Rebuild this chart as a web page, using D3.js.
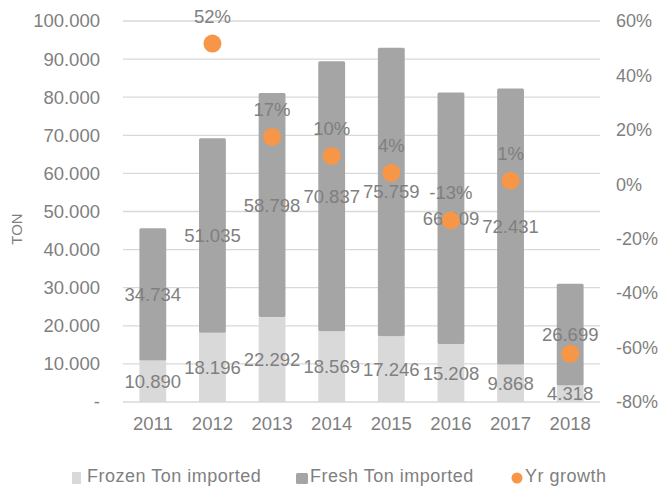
<!DOCTYPE html>
<html>
<head>
<meta charset="utf-8">
<script src="https://cdn.jsdelivr.net/npm/d3@7"></script>
<style>
body { margin: 0; background: #fff; }
text { font-family: "Liberation Sans", Arial, sans-serif; fill: #7f7f7f; }
</style>
</head>
<body>
<script>
var years = ["2011","2012","2013","2014","2015","2016","2017","2018"];
var frozen = [10890, 18196, 22292, 18569, 17246, 15208, 9868, 4318];
var fresh = [34734, 51035, 58798, 70837, 75759, 66009, 72431, 26699];
var growth = [null, 0.517, 0.174, 0.104, 0.042, -0.133, 0.013, -0.623];
var showGrowthLabel = [false, true, true, true, true, true, true, false];
var leftTicks = [0,10000,20000,30000,40000,50000,60000,70000,80000,90000,100000];
var rightTicks = [-0.8,-0.6,-0.4,-0.2,0,0.2,0.4,0.6];

var width = 661, height = 490;
var margin = {top: 21, right: 61, bottom: 88, left: 123};
var plotW = width - margin.left - margin.right;
var plotH = height - margin.top - margin.bottom;
var fs = "18.5px";

var svg = d3.select("body").append("svg")
	.attr("width", width)
	.attr("height", height)
	.append("g")
	.attr("transform", "translate(" + margin.left + "," + margin.top + ")");

var x = d3.scaleBand().domain(years).range([0, plotW]).paddingInner(0.55).paddingOuter(0.275);
var y = d3.scaleLinear().domain([0, 100000]).range([plotH, 0]);
var y2 = d3.scaleLinear().domain([-0.8, 0.6]).range([plotH, 0]);

var numFmt = function(v){
	if (v === 0) return "-";
	return d3.format(",")(v).replace(/,/g, ".");
};
// plain hyphen minus, like the spreadsheet
var pctFmt = function(v){
	return d3.format(".0%")(v).replace("\u2212", "-");
};

// gridlines
svg.append("g").selectAll("line").data(leftTicks).enter().append("line")
	.attr("x1", 0).attr("x2", plotW)
	.attr("y1", function(d){ return y(d); }).attr("y2", function(d){ return y(d); })
	.attr("stroke", "#d9d9d9").attr("stroke-width", 1.3);

// left axis
var yAxis = d3.axisLeft(y).tickValues(leftTicks).tickFormat(numFmt).tickSize(0).tickPadding(23);
svg.append("g").attr("class", "AxisY").call(yAxis)
	.call(function(g){ g.select(".domain").remove(); })
	.selectAll("text").style("font-size", fs).attr("fill", "#7f7f7f");

// right axis
var y2Axis = d3.axisRight(y2).tickValues(rightTicks).tickFormat(pctFmt).tickSize(0).tickPadding(16);
svg.append("g").attr("transform", "translate(" + plotW + ",0)").call(y2Axis)
	.call(function(g){ g.select(".domain").remove(); })
	.selectAll("text").style("font-size", "18px").attr("fill", "#7f7f7f");

// x axis
var xAxis = d3.axisBottom(x).tickSize(0).tickPadding(15);
svg.append("g").attr("transform", "translate(0," + plotH + ")").call(xAxis)
	.call(function(g){ g.select(".domain").remove(); })
	.selectAll("text").style("font-size", fs).attr("fill", "#7f7f7f");

// y title
svg.append("text")
	.attr("transform", "translate(-101,208) rotate(-90)")
	.attr("text-anchor", "middle")
	.style("font-size", "15px")
	.text("TON");

var rows = years.map(function(yr, i){ return {year: yr, frozen: frozen[i], fresh: fresh[i]}; });

// frozen bars
svg.append("g").selectAll("rect").data(rows).enter().append("rect")
	.attr("x", function(d){ return x(d.year); })
	.attr("width", x.bandwidth())
	.attr("y", function(d){ return y(d.frozen); })
	.attr("height", function(d){ return y(0) - y(d.frozen); })
	.attr("fill", "#d9d9d9");

// fresh bars
svg.append("g").selectAll("rect").data(rows).enter().append("rect")
	.attr("x", function(d){ return x(d.year); })
	.attr("width", x.bandwidth())
	.attr("y", function(d){ return y(d.frozen + d.fresh); })
	.attr("height", function(d){ return y(d.frozen) - y(d.frozen + d.fresh); })
	.attr("rx", 1.5)
	.attr("fill", "#a5a5a5");

// frozen labels
svg.append("g").selectAll("text").data(rows).enter().append("text")
	.attr("x", function(d){ return x(d.year) + x.bandwidth() / 2; })
	.attr("y", function(d){ return y(d.frozen / 2); })
	.attr("dy", "0.35em")
	.attr("text-anchor", "middle")
	.style("font-size", fs)
	.text(function(d){ return numFmt(d.frozen); });

// fresh labels
svg.append("g").selectAll("text").data(rows).enter().append("text")
	.attr("x", function(d){ return x(d.year) + x.bandwidth() / 2; })
	.attr("y", function(d){ return y(d.frozen + d.fresh / 2); })
	.attr("dy", "0.35em")
	.attr("text-anchor", "middle")
	.style("font-size", fs)
	.text(function(d){ return numFmt(d.fresh); });

// growth dots
var gRows = years.map(function(yr, i){ return {year: yr, g: growth[i], show: showGrowthLabel[i]}; })
	.filter(function(d){ return d.g !== null; });

svg.append("g").selectAll("circle").data(gRows).enter().append("circle")
	.attr("cx", function(d){ return x(d.year) + x.bandwidth() / 2; })
	.attr("cy", function(d){ return y2(d.g); })
	.attr("r", 9)
	.attr("fill", "#f79646");

svg.append("g").selectAll("text").data(gRows.filter(function(d){ return d.show; })).enter().append("text")
	.attr("x", function(d){ return x(d.year) + x.bandwidth() / 2; })
	.attr("y", function(d){ return y2(d.g) - 21; })
	.attr("text-anchor", "middle")
	.style("font-size", fs)
	.text(function(d){ return pctFmt(d.g); });

// legend
var legend = d3.select("svg").append("g").attr("transform", "translate(0,478)");
legend.append("rect").attr("x", 72).attr("y", -6).attr("width", 9).attr("height", 12).attr("fill", "#d9d9d9");
legend.append("text").attr("x", 87).attr("y", 4).style("font-size", "18px").style("letter-spacing", "0.5px").text("Frozen Ton imported");
legend.append("rect").attr("x", 296).attr("y", -5).attr("width", 12).attr("height", 11).attr("rx", 1.5).attr("fill", "#a5a5a5");
legend.append("text").attr("x", 310).attr("y", 4).style("font-size", "18px").style("letter-spacing", "0.5px").text("Fresh Ton imported");
legend.append("circle").attr("cx", 517).attr("cy", 0).attr("r", 5.5).attr("fill", "#f79646");
legend.append("text").attr("x", 525).attr("y", 4).style("font-size", "18px").style("letter-spacing", "0.5px").text("Yr growth");
</script>
</body>
</html>
